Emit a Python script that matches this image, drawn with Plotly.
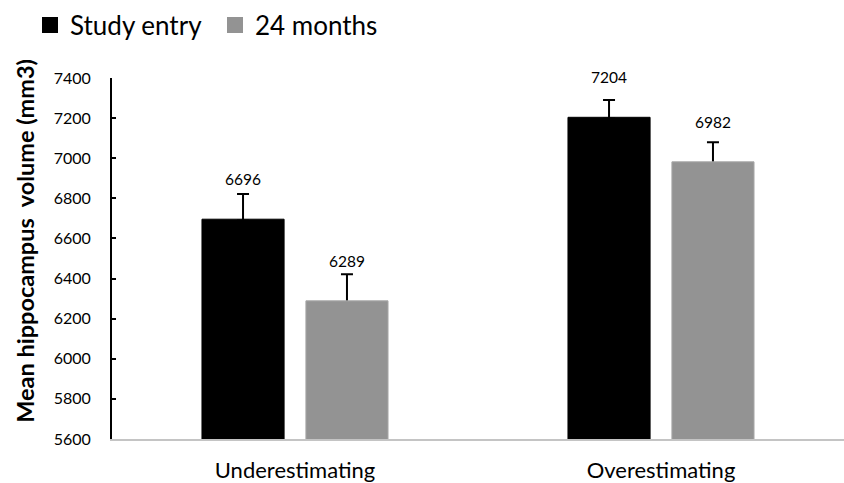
import plotly.graph_objects as go

categories = ["Underestimating", "Overestimating"]
series_names = ["Study entry", "24 months"]
study_entry = [6696, 7204]
months_24 = [6289, 6982]
study_entry_err = [125, 86]
months_24_err = [133, 98]
y_ticks = [5600, 5800, 6000, 6200, 6400, 6600, 6800, 7000, 7200, 7400]

FONT = "Lato"
colors = ["#000000", "#939393"]
edge_colors = ["#000000", "#a8a8a8"]
groups = ["g1", "g2"]

fig = go.Figure()
# error bars first (on transparent bars), so the solid bars cover their lower ends
for name, vals, errs, grp in zip(series_names, [study_entry, months_24],
                                 [study_entry_err, months_24_err], groups):
    fig.add_trace(go.Bar(
        name=name + " error", x=categories, y=vals, showlegend=False,
        offsetgroup=grp, hoverinfo="skip",
        marker=dict(color="rgba(0,0,0,0)", line=dict(width=0)),
        error_y=dict(type="data", array=errs, arrayminus=[6] * len(errs), symmetric=False,
                     color="#000000", thickness=2, width=6),
    ))

for name, vals, col, edge, grp in zip(series_names, [study_entry, months_24],
                                      colors, edge_colors, groups):
    fig.add_trace(go.Bar(
        name=name, x=categories, y=vals, showlegend=False, offsetgroup=grp,
        marker=dict(color=col, line=dict(color=edge, width=1)),
    ))

# legend entries with larger square swatches
for name, col in zip(series_names, colors):
    fig.add_trace(go.Scatter(
        name=name, x=[None], y=[None], mode="markers",
        marker=dict(symbol="square", size=16, color=col, line=dict(width=0)),
        showlegend=True, hoverinfo="skip",
    ))

# value labels above bars
for vals, off in [(study_entry, -1), (months_24, 1)]:
    for j, v in enumerate(vals):
        fig.add_annotation(x=j, y=v, text=str(v), showarrow=False,
                           xshift=off * 52, yshift=40, yanchor="middle",
                           font=dict(family=FONT, size=15.5, color="#000000"))

fig.add_annotation(text="<b>Mean hippocampus  volume (mm3)</b>", textangle=-90,
                   xref="paper", yref="paper", x=-0.118, y=0.548,
                   showarrow=False, xanchor="center", yanchor="middle",
                   font=dict(family=FONT, size=23.5, color="#000000"))

fig.update_layout(
    width=844, height=483,
    margin=dict(l=112, r=0, t=78, b=44),
    paper_bgcolor="white", plot_bgcolor="white",
    barmode="group", bargap=0.432, bargroupgap=0.21,
    font=dict(family=FONT, color="#000000"),
    showlegend=True,
    legend=dict(orientation="h", xref="container", yref="container",
                x=30 / 844, y=1 - 25 / 483, xanchor="left", yanchor="middle",
                font=dict(family=FONT, size=26, color="#000000"),
                itemwidth=30, traceorder="normal", itemsizing="trace",
                entrywidth=140, entrywidthmode="pixels"),
    xaxis=dict(showline=True, linecolor="#c4c4c4", linewidth=1.5,
               ticks="", showgrid=False, tickfont=dict(family=FONT, size=22),
               ticklabelstandoff=11, automargin=False),
    yaxis=dict(range=[5600, 7400], tickvals=y_ticks, showline=True,
               linecolor="#000000", linewidth=2, ticks="inside", ticklen=4,
               tickwidth=1.5, tickcolor="#000000", showgrid=False, zeroline=False,
               tickfont=dict(family=FONT, size=16), ticklabelstandoff=16,
               automargin=False),
)

fig.write_html("out.html")
